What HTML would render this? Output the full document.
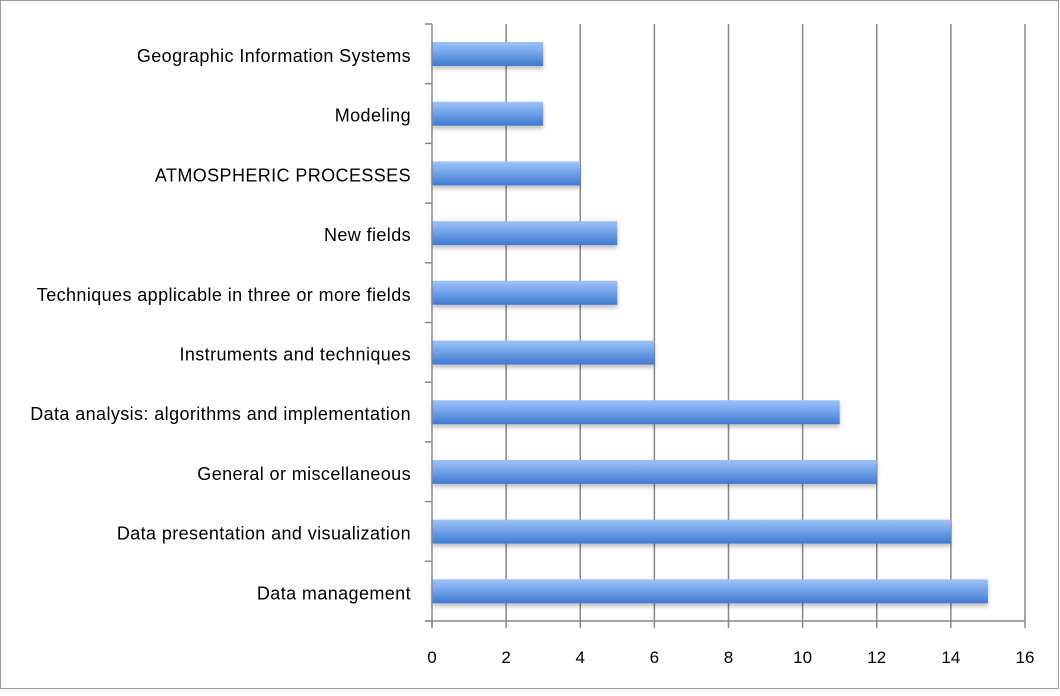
<!DOCTYPE html>
<html><head><meta charset="utf-8"><style>
body{margin:0;background:#fff;}
svg text{font-family:"Liberation Sans",sans-serif;font-size:17px;fill:#000;}
svg text.cat{font-size:18px;letter-spacing:0.4px;}
</style></head><body>
<svg width="1060" height="691">
<defs><linearGradient id="g" x1="0" y1="0" x2="0" y2="1">
<stop offset="0" stop-color="#9fc3f7"/><stop offset="0.5" stop-color="#6fa0e8"/><stop offset="1" stop-color="#3f79d0"/></linearGradient>
<filter id="sh" x="-5%" y="-20%" width="110%" height="160%"><feDropShadow dx="0" dy="3" stdDeviation="2" flood-color="#000" flood-opacity="0.25"/></filter></defs>
<rect x="0.5" y="0.5" width="1058" height="688" fill="#fff" stroke="#999"/>
<g id="grid"></g><g id="bars"></g><g id="axes"></g>
</svg>
<script>
const categories=["Geographic Information Systems","Modeling","ATMOSPHERIC PROCESSES","New fields","Techniques applicable in three or more fields","Instruments and techniques","Data analysis: algorithms and implementation","General or miscellaneous","Data presentation and visualization","Data management"];
const values=[3,3,4,5,5,6,11,12,14,15];
const xTicks=[0,2,4,6,8,10,12,14,16];
const X0=432,X1=1025,Y0=24,Y1=621;
const NS="http://www.w3.org/2000/svg";
function x(v){return X0+v*(X1-X0)/16;}
const band=(Y1-Y0)/categories.length;
function y(i){return Y0+i*band;}
function mk(t,a,p){const e=document.createElementNS(NS,t);for(const k in a)e.setAttribute(k,a[k]);p.appendChild(e);return e;}
const grid=document.getElementById('grid'),bars=document.getElementById('bars'),axes=document.getElementById('axes');
xTicks.forEach(t=>{
 if(t>0){const l=mk('line',{x1:x(t),x2:x(t),y1:Y0,y2:Y1,stroke:'#888','stroke-width':1.5},grid);
 
 }
 mk('line',{x1:x(t),x2:x(t),y1:Y1,y2:Y1+7,stroke:'#888','stroke-width':1.5},axes);
 const tx=mk('text',{x:x(t),y:663,'text-anchor':'middle'},axes);tx.textContent=t;
 
 
});
for(let i=0;i<=categories.length;i++)mk('line',{x1:X0-7,x2:X0,y1:y(i),y2:y(i),stroke:'#888','stroke-width':1.5},axes);
const ax=mk('line',{x1:X0,x2:X0,y1:Y0,y2:Y1+7,stroke:'#888','stroke-width':1.5},axes);


const bx=mk('line',{x1:X0-7,x2:X1,y1:Y1,y2:Y1,stroke:'#888','stroke-width':1.5},axes);


categories.forEach((c,i)=>{
 const r=mk('rect',{x:X0,y:y(i)+18,width:x(values[i])-X0,height:24,fill:'url(#g)',filter:'url(#sh)'},bars);
 
 
 const t=mk('text',{x:411,y:y(i)+38,'text-anchor':'end','class':'cat'},axes);t.textContent=c;
 
 
});
</script>
</body></html>
